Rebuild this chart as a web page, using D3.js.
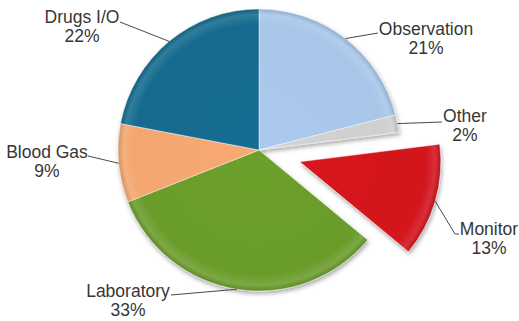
<!DOCTYPE html>
<html>
<head>
<meta charset="utf-8">
<script src="https://cdn.jsdelivr.net/npm/d3@7/dist/d3.min.js"></script>
<style>
  html, body { margin: 0; padding: 0; background: #ffffff; }
  svg { display: block; }
  text { font-family: "Liberation Sans", Arial, sans-serif; }
</style>
</head>
<body>
<svg id="chart" width="519" height="321"></svg>
<script>
// ---- data ----
const categories = ["Observation", "Other", "Monitor", "Laboratory", "Blood Gas", "Drugs I/O"];
const values = [21, 2, 13, 33, 9, 22];
const colors = ["#a8c6e9", "#cfcfcf", "#d2141d", "#6b9c2c", "#f3a66f", "#156b8e"];
const exploded = ["Monitor"];

// ---- label layout (text centre x, first baseline y, leader end x/y) ----
const labelLayout = {
  "Observation": { x: 426, y: 35, lx: 378, ly: 33 },
  "Other":       { x: 465, y: 122, lx: 442, ly: 122 },
  "Monitor":     { x: 489, y: 235, lx: 459, ly: 234, bend: [455, 234] },
  "Laboratory":  { x: 128, y: 297, lx: 171, ly: 295 },
  "Blood Gas":   { x: 47,  y: 158, lx: 88,  ly: 156 },
  "Drugs I/O":   { x: 82,  y: 23,  lx: 120, ly: 22 }
};

const width = 519, height = 321;
const cx = 259, cy = 150, radius = 141, explodeDist = 42.5;

const svg = d3.select("#chart");
const defs = svg.append("defs");

const shadow = defs.append("filter").attr("id", "shadow")
  .attr("x", "-20%").attr("y", "-20%").attr("width", "140%").attr("height", "140%");
shadow.append("feDropShadow").attr("dx", 1).attr("dy", 2.5)
  .attr("stdDeviation", 2.2).attr("flood-color", "#000").attr("flood-opacity", 0.35);

colors.forEach((c, i) => {
  const base = d3.color(c);
  const g = defs.append("radialGradient").attr("id", "grad" + i)
    .attr("gradientUnits", "userSpaceOnUse")
    .attr("cx", 0).attr("cy", 0).attr("r", radius);
  g.append("stop").attr("offset", "0%").attr("stop-color", base.brighter(0.06));
  g.append("stop").attr("offset", "89%").attr("stop-color", base);
  g.append("stop").attr("offset", "96%").attr("stop-color", d3.interpolateRgb(base, "#ffffff")(0.12));
  g.append("stop").attr("offset", "100%").attr("stop-color", base.darker(0.35));
});

const total = d3.sum(values);
const pie = d3.pie().sort(null).value(d => d.value);
const data = pie(categories.map((c, i) => ({ name: c, value: values[i], idx: i })));
const arc = d3.arc().innerRadius(0).outerRadius(radius);

function offsetFor(d) {
  if (!exploded.includes(d.data.name)) return [0, 0];
  const a = (d.startAngle + d.endAngle) / 2;
  return [explodeDist * Math.sin(a), -explodeDist * Math.cos(a)];
}

const root = svg.append("g").attr("transform", `translate(${cx},${cy})`);

const slices = root.append("g").attr("filter", "url(#shadow)")
  .selectAll("g.slice").data(data).join("g")
  .attr("class", "slice")
  .attr("transform", d => { const o = offsetFor(d); return `translate(${o[0]},${o[1]})`; });

slices.append("path")
  .attr("d", arc)
  .attr("fill", d => `url(#grad${d.data.idx})`)
  .attr("stroke", "#ffffff")
  .attr("stroke-opacity", 0.55)
  .attr("stroke-width", 0.8)
  .attr("stroke-linejoin", "round");

// ---- leader lines and labels ----
const labels = svg.append("g");
data.forEach(d => {
  const L = labelLayout[d.data.name];
  const o = offsetFor(d);
  const a = (d.startAngle + d.endAngle) / 2;
  const sx = cx + o[0] + radius * Math.sin(a);
  const sy = cy + o[1] - radius * Math.cos(a);
  const pts = [[sx, sy]];
  if (L.bend) pts.push(L.bend);
  pts.push([L.lx, L.ly]);
  labels.append("path")
    .attr("d", d3.line()(pts))
    .attr("fill", "none")
    .attr("stroke", "#4a4a4a")
    .attr("stroke-width", 1);
  const t = labels.append("text")
    .attr("text-anchor", "middle")
    .attr("font-size", "17.5px")
    .attr("fill", "#363636");
  t.append("tspan").attr("x", L.x).attr("y", L.y).text(d.data.name);
  t.append("tspan").attr("x", L.x).attr("y", L.y + 18.5)
    .text(Math.round(d.data.value / total * 100) + "%");
});
</script>
</body>
</html>
